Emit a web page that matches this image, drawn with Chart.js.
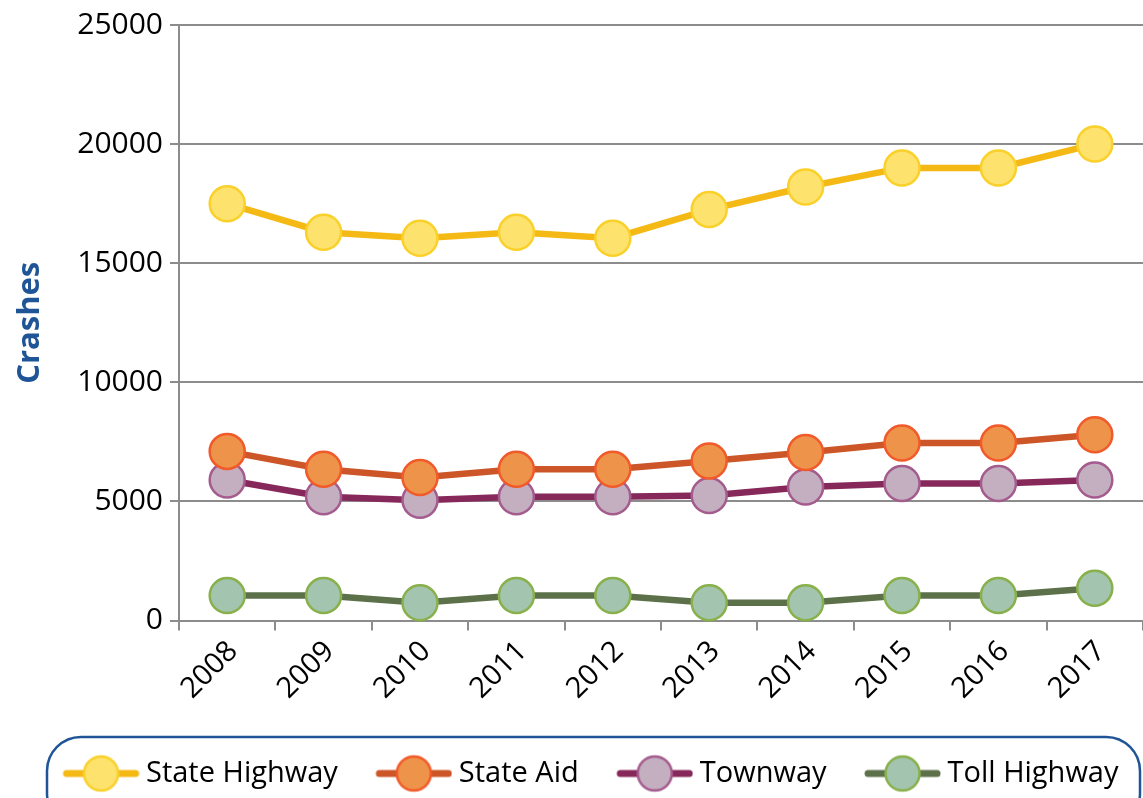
<!DOCTYPE html>
<html>
<head>
<meta charset="utf-8">
<script src="https://cdn.jsdelivr.net/npm/chart.js@4/dist/chart.umd.min.js"></script>
<style>
  html, body { margin: 0; padding: 0; background: #fff; }
  #wrap { width: 1143px; height: 798px; }
</style>
</head>
<body>
<div id="wrap"><canvas id="chart"></canvas></div>
<script>
// years on the x axis
const years = ["2008", "2009", "2010", "2011", "2012", "2013", "2014", "2015", "2016", "2017"];
// crashes per road type
const stateHighway = [17500, 16300, 16050, 16300, 16050, 17250, 18200, 19000, 19000, 20000];
const stateAid = [7100, 6350, 6000, 6350, 6350, 6700, 7050, 7450, 7450, 7800];
const townway = [5900, 5200, 5050, 5200, 5200, 5250, 5600, 5750, 5750, 5900];
const tollHighway = [1050, 1050, 750, 1050, 1050, 750, 750, 1050, 1050, 1350];
const seriesNames = ["State Highway", "State Aid", "Townway", "Toll Highway"];
// y tick labels
const yTicks = [0, 5000, 10000, 15000, 20000, 25000];

const lineColors = ["#f5b916", "#cc5627", "#87285b", "#5c7149"];
const fillColors = ["#fde36e", "#ee934a", "#c4afc0", "#a3c4af"];
const edgeColors = ["#fad02a", "#f15a2a", "#a45b8d", "#88b04b"];

const FONT = "'Open Sans', 'Noto Sans', sans-serif";
const PAD_LEFT = 17;

//line + circle icon for the legend, drawn on the right part of a wider canvas
function makeIcon(i) {
  const c = document.createElement("canvas");
  c.width = 106;
  c.height = 40;
  const g = c.getContext("2d");
  g.strokeStyle = lineColors[i];
  g.lineWidth = 7;
  g.lineCap = "round";
  g.beginPath();
  g.moveTo(33, 20);
  g.lineTo(102, 20);
  g.stroke();
  g.beginPath();
  g.arc(67.5, 20, 17, 0, Math.PI * 2);
  g.fillStyle = fillColors[i];
  g.fill();
  g.lineWidth = 2.5;
  g.strokeStyle = edgeColors[i];
  g.stroke();
  return c;
}
const icons = [0, 1, 2, 3].map(makeIcon);

function series(i, values) {
  return {
    label: seriesNames[i],
    data: values,
    borderColor: lineColors[i],
    borderWidth: 6.5,
    pointRadius: 17.5,
    pointHoverRadius: 17.5,
    pointBackgroundColor: fillColors[i],
    pointBorderColor: edgeColors[i],
    pointBorderWidth: 2.5,
    tension: 0,
    clip: false,
  };
}

//rounded frame round the legend
const legendFrame = {
  id: "legendFrame",
  afterDraw(chart) {
    const ctx = chart.ctx;
    ctx.save();
    ctx.strokeStyle = "#1f5597";
    ctx.lineWidth = 2.5;
    ctx.beginPath();
    ctx.roundRect(47, 737, 1093, 90, 34);
    ctx.stroke();
    ctx.restore();
  },
};

new Chart(document.getElementById("chart"), {
  type: "line",
  plugins: [legendFrame],
  data: {
    labels: years,
    datasets: [
      series(0, stateHighway),
      series(1, stateAid),
      series(2, townway),
      series(3, tollHighway),
    ],
  },
  options: {
    responsive: true,
    maintainAspectRatio: false,
    animation: false,
    layout: { autoPadding: false, padding: { left: PAD_LEFT, top: 19, right: 0, bottom: 0 } },
    scales: {
      x: {
        offset: true,
        grid: {
          offset: true,
          drawOnChartArea: false,
          drawTicks: true,
          tickLength: 10,
          color: "#8c8c8c",
          lineWidth: 2,
        },
        border: { color: "#8c8c8c", width: 2 },
        ticks: {
          color: "#000",
          font: { family: FONT, size: 29 },
          minRotation: 45,
          maxRotation: 45,
          padding: 4,
          labelOffset: 6,
        },
        afterFit: (scale) => {
          scale.height = 122;
          scale.paddingRight = 0;
          scale.paddingLeft = 0;
        },
      },
      y: {
        min: 0,
        max: 25000,
        afterBuildTicks: (scale) => { scale.ticks = yTicks.map((v) => ({ value: v })); },
        grid: { color: "#8c8c8c", lineWidth: 2, tickLength: 9 },
        border: { color: "#8c8c8c", width: 2 },
        ticks: {
          color: "#000",
          font: { family: FONT, size: 30 },
          padding: 7,
          callback: (v) => String(v),
        },
        title: {
          display: true,
          text: "Crashes",
          color: "#1f5597",
          font: { family: FONT, size: 31, weight: "bold" },
          padding: { top: 12 - PAD_LEFT, bottom: 0 },
        },
        afterFit: (scale) => { scale.width = 179 - PAD_LEFT; },
      },
    },
    plugins: {
      tooltip: { enabled: false },
      legend: {
        position: "bottom",
        labels: {
          usePointStyle: true,
          pointStyleWidth: 90,
          padding: 16.5,
          color: "#000",
          font: { family: FONT, size: 29 },
          generateLabels: (chart) =>
            Chart.defaults.plugins.legend.labels.generateLabels(chart).map((item, i) => {
              item.pointStyle = icons[i];
              return item;
            }),
        },
      },
    },
  },
});
</script>
</body>
</html>
